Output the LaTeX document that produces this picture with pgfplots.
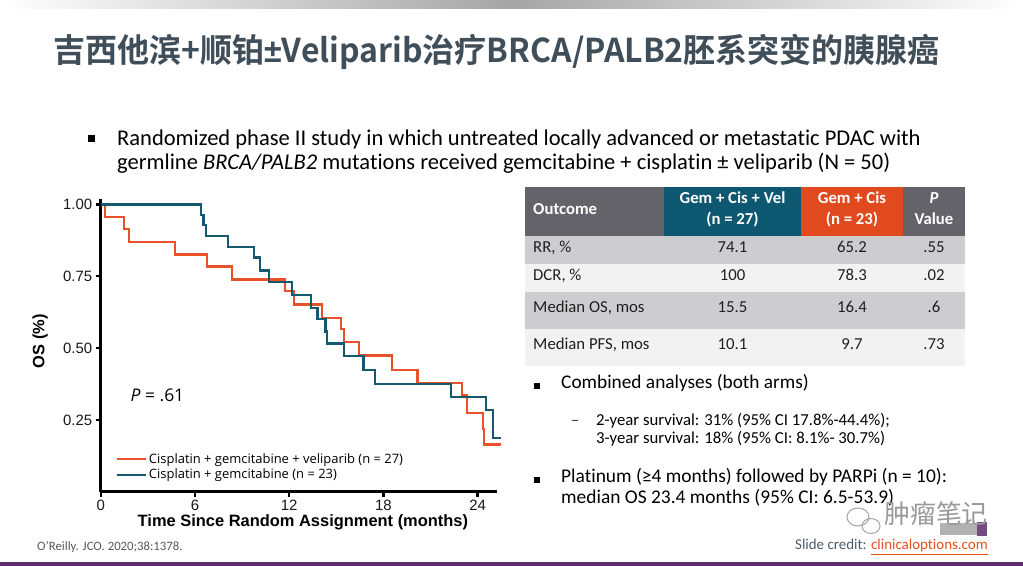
\documentclass[border=0pt]{standalone}
\usepackage{fontspec}
\usepackage{pgfplots}
\pgfplotsset{compat=1.18}
\setmainfont{Carlito}[Ligatures=NoCommon]
\newfontfamily\axisfont{Liberation Sans}
\newfontfamily\legfont{Open Sans}
\newfontfamily\cjk{Noto Sans CJK SC}[BoldFont={Noto Sans CJK SC Bold}]
\definecolor{orangec}{HTML}{E8512A}
\definecolor{bluec}{HTML}{16596F}
\definecolor{hdgray}{HTML}{636369}
\definecolor{hdblue}{HTML}{0E5771}
\definecolor{hdorange}{HTML}{E1491F}
\definecolor{rowgray}{HTML}{CDCDCF}
\definecolor{rowlight}{HTML}{F2F2F2}
\definecolor{titlec}{HTML}{404E5A}
\definecolor{purp}{HTML}{5C2D6C}
\definecolor{creditc}{HTML}{4D5A66}
\definecolor{linkc}{HTML}{E8501E}
\begin{document}
\begin{tikzpicture}
\begin{scope}[x=1bp,y=1bp]
\path[use as bounding box, fill=white] (0,0) rectangle (1023,566);
\shade[left color=white, right color=white, middle color=black!35] (0,557) rectangle (1023,566);
\fill[purp] (0,0) rectangle (1023,3.5);
% title
\node[anchor=west, inner sep=0, xscale=0.974, text=titlec, font=\cjk\bfseries\fontsize{33}{33}\selectfont] at (53,514) {吉西他滨+顺铂{\axisfont\bfseries ±}Veliparib治疗BRCA/PALB2胚系突变的胰腺癌};
% bullet 1
\fill[black] (87.5,423.5) rectangle (94.5,430.5);
\node[anchor=base west, inner sep=0, font=\fontsize{22.6}{24}\selectfont] at (117,420) {Randomized phase II study in which untreated locally advanced or metastatic PDAC with};
\node[anchor=base west, inner sep=0, font=\fontsize{22.6}{24}\selectfont] at (117,396) {germline \textit{BRCA/PALB2} mutations received gemcitabine + cisplatin ± veliparib (N = 50)};
% table
\fill[hdgray] (525,330.3) rectangle (664,379.3);
\fill[hdblue] (664,330.3) rectangle (801,379.3);
\fill[hdorange] (801,330.3) rectangle (903,379.3);
\fill[hdgray] (903,330.3) rectangle (965,379.3);
\fill[rowgray] (525,302) rectangle (965,330.3);
\fill[rowlight] (525,274.3) rectangle (965,302);
\fill[rowgray] (525,237) rectangle (965,274.3);
\fill[rowlight] (525,200.3) rectangle (965,237);
\begin{scope}[every node/.style={inner sep=0, text=white, font=\bfseries\fontsize{16.8}{18}\selectfont}]
\node[anchor=mid west] at (533,354) {Outcome};
\node[anchor=mid] at (732.5,365) {Gem + Cis + Vel};
\node[anchor=mid] at (732.5,344) {(n = 27)};
\node[anchor=mid] at (852,365) {Gem + Cis};
\node[anchor=mid] at (852,344) {(n = 23)};
\node[anchor=mid] at (934,365) {\itshape P};
\node[anchor=mid] at (934,344) {Value};
\end{scope}
\begin{scope}[every node/.style={inner sep=0, text=black!88, font=\fontsize{16.8}{18}\selectfont}]
\node[anchor=mid west] at (533,316) {RR, \%};
\node[anchor=mid] at (732.5,316) {74.1};
\node[anchor=mid] at (852,316) {65.2};
\node[anchor=mid] at (934,316) {.55};
\node[anchor=mid west] at (533,288) {DCR, \%};
\node[anchor=mid] at (732.5,288) {100};
\node[anchor=mid] at (852,288) {78.3};
\node[anchor=mid] at (934,288) {.02};
\node[anchor=mid west] at (533,255.5) {Median OS, mos};
\node[anchor=mid] at (732.5,255.5) {15.5};
\node[anchor=mid] at (852,255.5) {16.4};
\node[anchor=mid] at (934,255.5) {.6};
\node[anchor=mid west] at (533,218.5) {Median PFS, mos};
\node[anchor=mid] at (732.5,218.5) {10.1};
\node[anchor=mid] at (852,218.5) {9.7};
\node[anchor=mid] at (934,218.5) {.73};
\end{scope}
% right bullets
\fill[black] (534,177) rectangle (540,183);
\node[anchor=mid west, inner sep=0, font=\fontsize{19.4}{22}\selectfont] at (561,180) {Combined analyses (both arms)};
\node[anchor=mid west, inner sep=0, text=black!80, font=\fontsize{16.5}{17}\selectfont] at (571,143) {–};
\node[anchor=mid west, inner sep=0, font=\fontsize{16.8}{17}\selectfont] at (596,143) {2-year survival: 31\% (95\% CI 17.8\%-44.4\%);};
\node[anchor=mid west, inner sep=0, font=\fontsize{16.8}{17}\selectfont] at (596,125) {3-year survival: 18\% (95\% CI: 8.1\%- 30.7\%)};
\fill[black] (534,83) rectangle (540,89);
\node[anchor=mid west, inner sep=0, font=\fontsize{19.5}{22}\selectfont] at (561,86) {Platinum (≥4 months) followed by PARPi (n = 10):};
\node[anchor=mid west, inner sep=0, font=\fontsize{19.5}{22}\selectfont] at (561,65) {median OS 23.4 months (95\% CI: 6.5-53.9)};
% watermark and logo remnants
\fill[black!30] (940,31) rectangle (977,43);
\fill[purp!85] (977,30) rectangle (987,44);
\draw[black!35, line width=1bp] (858,49) ellipse (11 and 9);
\draw[black!35, line width=1bp] (871,40) ellipse (9 and 7.5);
\node[anchor=mid, inner sep=0, text=black!40, font=\cjk\fontsize{26}{26}\selectfont] at (936,45) {肿瘤笔记};
% credits
\node[anchor=base east, inner sep=0, font=\fontsize{15}{16}\selectfont] at (988,16) {\textcolor{creditc}{Slide credit: }\textcolor{linkc}{\underline{clinicaloptions.com}}};
\node[anchor=mid west, inner sep=0, text=black!65, font=\fontsize{12.8}{13}\selectfont] at (37,18) {O’Reilly. JCO. 2020;38:1378.};
\end{scope}
\begin{axis}[
  at={(100.7bp,74.3bp)}, anchor=south west, scale only axis,
  width=396.5bp, height=293bp,
  xmin=0, xmax=25.25, ymin=0, ymax=1.02,
  clip=false,
  axis lines=left,
  axis line style={-, line width=2.6bp, black},
  xtick={0,6,12,18,24}, ytick={0.25,0.5,0.75,1},
  tick align=outside, major tick length=5bp,
  tick style={line width=2.4bp, black},
  /pgf/number format/assume math mode=true,
  yticklabel style={/pgf/number format/fixed, /pgf/number format/fixed zerofill, /pgf/number format/precision=2},
  ticklabel style={font=\axisfont\fontsize{15}{15}\selectfont, text=black!90},
  xlabel={Time Since Random Assignment (months)},
  ylabel={OS (\%)},
  xlabel style={at={(axis description cs:0.51,-0.103)}, anchor=center, font=\axisfont\bfseries\fontsize{16.5}{18}\selectfont},
  ylabel style={at={(axis description cs:-0.153,0.514)}, anchor=center, font=\axisfont\bfseries\fontsize{16.5}{18}\selectfont},
  legend style={at={(axis description cs:0.035,0.028)}, anchor=south west, draw=none, fill=none,
     font=\legfont\fontsize{13}{14}\selectfont, row sep=0bp, inner sep=1bp},
  legend cell align=left,
  legend image code/.code={\draw[#1, line width=2bp] (0bp,0bp) -- (22bp,0bp); \path (0bp,0bp) -- (29bp,0bp);},
]
\addplot[const plot, color=orangec, line width=2.2bp] coordinates {
(0,1.0) (0.25,0.956) (1.5,0.915) (1.8,0.868) (4.75,0.826) (6.75,0.784) (8.38,0.739)
(11.74,0.698) (12.29,0.652) (14.08,0.605) (15.29,0.565) (15.5,0.521) (16.47,0.474)
(18.53,0.424) (20.17,0.378) (22.99,0.335) (23.31,0.275) (24.33,0.219) (24.43,0.164) (25.5,0.164)};
\addlegendentry{Cisplatin + gemcitabine + veliparib (n = 27)}
\addplot[const plot, color=bluec, line width=2.2bp] coordinates {
(0,1.0) (6.39,0.964) (6.54,0.928) (6.69,0.890) (8.09,0.853) (9.78,0.815) (10.13,0.770)
(10.72,0.729) (12.2,0.684) (13.4,0.639) (13.8,0.600) (14.31,0.558) (14.43,0.516)
(15.5,0.471) (16.73,0.424) (17.47,0.376) (22.31,0.329) (24.52,0.283) (25.0,0.188) (25.5,0.188)};
\addlegendentry{Cisplatin + gemcitabine (n = 23)}
\node[anchor=west, inner sep=0, font=\legfont\fontsize{17.5}{18}\selectfont] at (axis cs:1.9,0.335) {\textit{P} = .61};
\end{axis}
\end{tikzpicture}
\end{document}
